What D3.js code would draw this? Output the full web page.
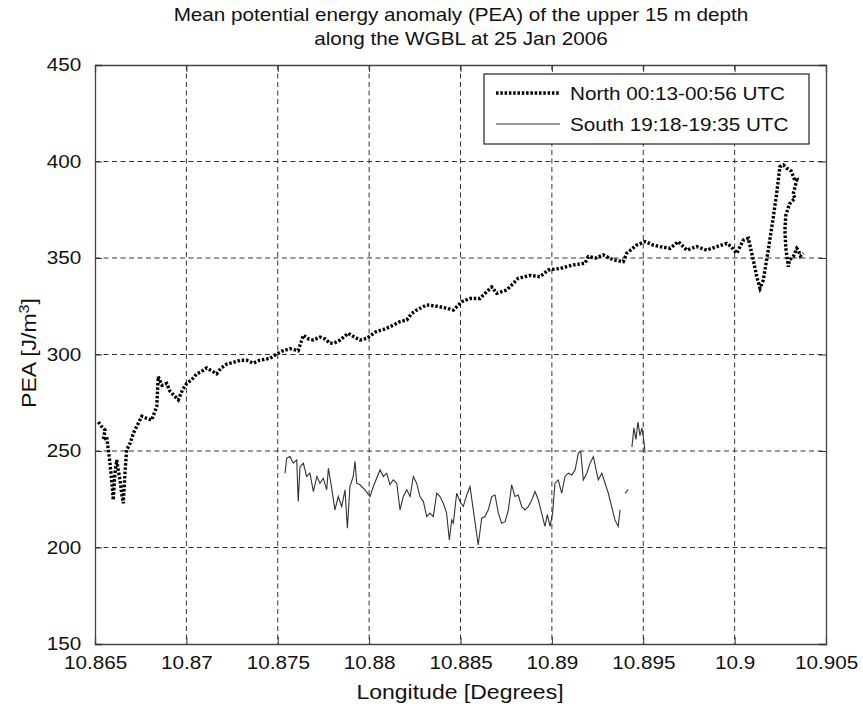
<!DOCTYPE html>
<html><head><meta charset="utf-8">
<script src="https://cdn.jsdelivr.net/npm/d3@7/dist/d3.min.js"></script>
<style>body{margin:0;background:#fff}text{font-family:"Liberation Sans",Arial,sans-serif;fill:#111}</style>
</head><body><svg id="c" width="863" height="715"></svg>
<script>
const titleLines = ["Mean potential energy anomaly (PEA) of the upper 15 m depth", "along the WGBL at 25 Jan 2006"];
const xLabel = "Longitude [Degrees]";
const yLabel = "PEA [J/m";
const yLabelSup = "3";
const yLabelEnd = "]";
const xTicks = [10.865, 10.87, 10.875, 10.88, 10.885, 10.89, 10.895, 10.9, 10.905];
const xTickLabels = ["10.865","10.87","10.875","10.88","10.885","10.89","10.895","10.9","10.905"];
const yTicks = [150, 200, 250, 300, 350, 400, 450];
const seriesNames = ["North 00:13-00:56 UTC", "South 19:18-19:35 UTC"];

const northLon = [10.86518,10.86537,10.86555,10.86545,10.86564,10.86573,10.86582,10.86591,10.86600,10.86609,10.86619,10.86627,10.86637,10.86646,10.86655,10.86664,10.86673,10.86692,10.86710,10.8673,10.86756,10.8678,10.86810,10.86838,10.86846,10.86867,10.86892,10.8691,10.8693,10.86956,10.8698,10.87002,10.8703,10.87057,10.8708,10.87111,10.8713,10.87166,10.8719,10.87221,10.8726,10.87293,10.8733,10.87366,10.8740,10.87458,10.8749,10.87530,10.87567,10.87612,10.87640,10.8767,10.87695,10.87731,10.8776,10.87786,10.8781,10.87841,10.87886,10.8792,10.87950,10.87987,10.8801,10.88041,10.8808,10.88114,10.88169,10.88206,10.8823,10.88260,10.88315,10.88370,10.88425,10.88461,10.88507,10.88552,10.88607,10.88625,10.88671,10.88698,10.88753,10.8878,10.88816,10.88880,10.88935,10.88980,10.89045,10.89117,10.89181,10.89199,10.8924,10.89281,10.89336,10.89391,10.89409,10.8943,10.89464,10.89510,10.89555,10.89592,10.89647,10.89692,10.89738,10.89793,10.89847,10.89902,10.89957,10.8998,10.90011,10.90048,10.90075,10.90102,10.90121,10.90139,10.90157,10.90184,10.90212,10.90230,10.90248,10.90267,10.90285,10.9031,10.9033,10.90340,10.9032,10.9033,10.9030,10.9028,10.90275,10.9028,10.90294,10.9030,10.90321,10.9034,10.90348,10.9036,10.90376];
const northPEA = [265,262.6,260.9,255.7,257.4,250.5,243.6,235,224.6,238.5,245.3,240.2,235,228.1,222.9,238.5,250.5,254,259.2,263,268,267,266,273,288.5,284,285,281,279,276.5,282,285,287,290,291,293,292,290,293,295,296,297,297,295.5,297,298,300,302,303,302,310,308,307.5,309,308,305.8,306,307.5,311,309,307.5,308.4,310,312,313,314.4,317,317.9,321,323,325.7,325,324,323,327.4,329,329,330.8,335,331.7,333.4,336,339.5,341,340.3,343.8,344.6,346.4,347.3,350.7,350,351.6,349,348.1,352.4,354,356.7,358.5,356.7,355.9,355,358.5,354.1,355.9,354.1,355.9,357.6,356,352.4,359.3,360.2,349,340.3,334.3,338.6,354.1,371.4,383.5,397.3,398.2,396.5,395,390,390.4,383,381,378,372,364.5,355,345.5,349,350.7,355,354.1,351,352.4];

const southLon = [10.87540,10.87549,10.87567,10.87585,10.87604,10.87612,10.87622,10.87640,10.87658,10.87676,10.87695,10.87714,10.87731,10.87749,10.87768,10.87777,10.87795,10.87813,10.87831,10.87850,10.87868,10.87881,10.87895,10.87913,10.87923,10.87932,10.87950,10.87977,10.88005,10.88023,10.88041,10.88060,10.88078,10.88096,10.88114,10.88132,10.88151,10.88169,10.88187,10.88206,10.88224,10.88242,10.88260,10.88278,10.88297,10.88315,10.88333,10.88351,10.88370,10.88388,10.88406,10.88424,10.88439,10.88452,10.88461,10.88479,10.88497,10.88515,10.88534,10.88552,10.88570,10.88597,10.88616,10.88634,10.88652,10.88671,10.88689,10.88707,10.88725,10.88744,10.88762,10.88780,10.88798,10.88816,10.88835,10.88853,10.88871,10.88890,10.88908,10.88926,10.88944,10.88962,10.88975,10.88990,10.89004,10.89017,10.89035,10.89054,10.89072,10.89090,10.89109,10.89127,10.89145,10.89158,10.89172,10.89191,10.89209,10.89227,10.89242,10.89254,10.89273,10.89291,10.89309,10.89327,10.89345,10.89363,10.89373,10.89386,10.89400,10.89418,10.89428,10.89438,10.89449,10.89460,10.89471,10.89482,10.89493,10.89505,10.89510];
const southPEA = [238.5,246.3,247.1,243.7,245.4,223.8,241.9,243.7,236.8,238.5,229,236.8,233.3,235.9,229.9,241.1,230.8,219.5,226.4,221.2,229.9,210,231.6,236.8,244.6,233.3,232.5,229.9,226.4,231.6,235.9,240.2,236.8,238.5,232.5,235,233.3,219.5,226.4,229.9,226.4,236.8,233.3,226.4,223.8,216,217.8,216,228.1,226.4,222.9,217.8,203.9,214.3,212.6,228.1,223.8,221.2,227.2,231.6,219.5,201.3,215.2,216,219.5,226.4,227.2,217.8,212.6,213.4,219.5,232.5,226.4,227.2,221.2,219.5,221.2,224.6,229,224.6,217.8,210.9,217,210.9,217.8,233.3,235,228.1,236.8,238.5,237.6,240.2,248.9,249.7,235,238.5,243.7,247.1,240.2,235,238.5,233.3,228.1,221.2,214.3,210.9,219.5,null,228.1,230,null,252,262,256,265,258,262,254,249];

const svg = d3.select("#c");
const M = {l:95, r:826, t:65, b:644};
const x = d3.scaleLinear().domain([10.865,10.905]).range([M.l,M.r]);
const y = d3.scaleLinear().domain([150,450]).range([M.b,M.t]);
const SX = 1.15;

function txt(g, s, tx, ty, size, anchor, rot){
  return g.append("text").attr("transform",`translate(${tx},${ty}) rotate(${rot||0}) scale(${SX},1)`)
    .attr("text-anchor",anchor||"middle").style("font-size",size+"px").text(s);
}

// grid
const grid = svg.append("g").attr("stroke","#333").attr("stroke-width",1).attr("stroke-dasharray","5,3.5").attr("fill","none");
xTicks.slice(1,-1).forEach(v=>grid.append("line").attr("x1",x(v)).attr("x2",x(v)).attr("y1",M.t).attr("y2",M.b));
yTicks.slice(1,-1).forEach(v=>grid.append("line").attr("x1",M.l).attr("x2",M.r).attr("y1",y(v)).attr("y2",y(v)));

// axes with inward ticks
const fmtX = (d,i)=>xTickLabels[i];
const xAxisB = d3.axisBottom(x).tickValues(xTicks).tickSize(-7).tickPadding(12).tickFormat(fmtX);
const xAxisT = d3.axisTop(x).tickValues(xTicks).tickSize(-7).tickFormat("");
const yAxisL = d3.axisLeft(y).tickValues(yTicks).tickSize(-7).tickPadding(12).tickFormat(d3.format("d"));
const yAxisR = d3.axisRight(y).tickValues(yTicks).tickSize(-7).tickFormat("");
const gB = svg.append("g").attr("transform",`translate(0,${M.b})`).call(xAxisB);
svg.append("g").attr("transform",`translate(0,${M.t})`).call(xAxisT);
const gL = svg.append("g").attr("transform",`translate(${M.l},0)`).call(yAxisL);
svg.append("g").attr("transform",`translate(${M.r},0)`).call(yAxisR);
svg.selectAll(".domain").attr("stroke","#444").attr("stroke-width",1.3);
svg.selectAll(".tick line").attr("stroke","#333");
[gB,gL].forEach(g=>g.selectAll("text").style("font-size","18px").attr("fill","#111")
  .attr("transform",`scale(${SX},1)`).attr("font-family","Liberation Sans, Arial, sans-serif"));

// data
const north = northLon.map((d,i)=>[d,northPEA[i]]);
const south = southLon.map((d,i)=>[d,southPEA[i]]);
const line = d3.line().defined(d=>d[1]!==null).x(d=>x(d[0])).y(d=>y(d[1]));
svg.append("path").datum(south).attr("d",line).attr("fill","none").attr("stroke","#333").attr("stroke-width",1.1);
svg.append("path").datum(north).attr("d",line).attr("fill","none").attr("stroke","#000").attr("stroke-width",3.4).attr("stroke-dasharray","2.5,1.8");

// legend
const lg = svg.append("g");
lg.append("rect").attr("x",484).attr("y",74).attr("width",325).attr("height",70).attr("fill","#fff").attr("stroke","#222").attr("stroke-width",1.2);
lg.append("line").attr("x1",496).attr("x2",560).attr("y1",93).attr("y2",93).attr("stroke","#000").attr("stroke-width",3.4).attr("stroke-dasharray","2.5,1.8");
lg.append("line").attr("x1",496).attr("x2",560).attr("y1",124).attr("y2",124).attr("stroke","#333").attr("stroke-width",1.1);
txt(lg, seriesNames[0], 570, 99.5, 18, "start");
txt(lg, seriesNames[1], 570, 130.5, 18, "start");

// titles
txt(svg, titleLines[0], 461, 21, 18);
txt(svg, titleLines[1], 461, 45, 18);
txt(svg, xLabel, 460, 699, 20);
const yl = txt(svg, "", 36, 353, 20, "middle", -90);
yl.append("tspan").text(yLabel);
yl.append("tspan").attr("dy","-7").style("font-size","14px").text(yLabelSup);
yl.append("tspan").attr("dy","7").text(yLabelEnd);
</script></body></html>
